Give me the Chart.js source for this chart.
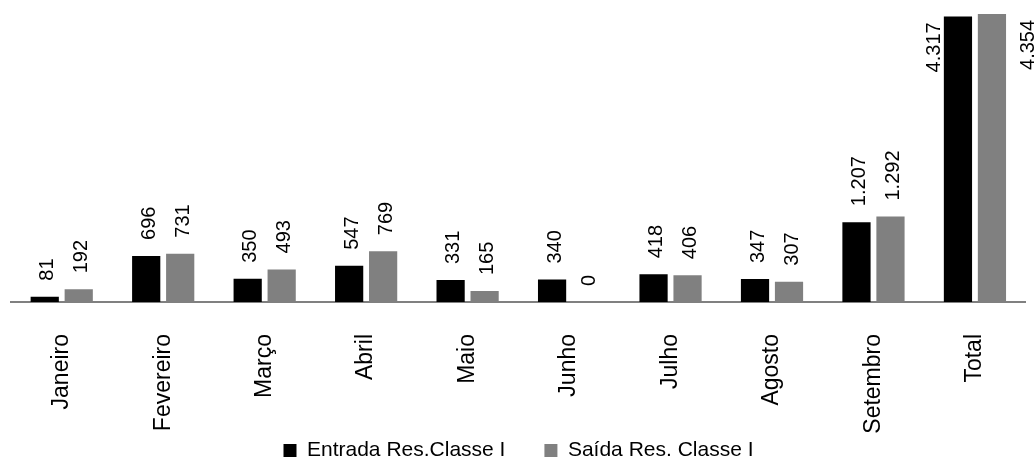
<!DOCTYPE html>
<html>
<head>
<meta charset="utf-8">
<script src="https://cdn.jsdelivr.net/npm/chart.js@4/dist/chart.umd.min.js"></script>
<style>
  html, body { margin: 0; padding: 0; background: #ffffff; overflow: hidden; }
  canvas { display: block; }
</style>
</head>
<body>
<canvas id="chart" width="1035" height="462"></canvas>
<script>
// Categories and series
const months = ['Janeiro', 'Fevereiro', 'Março', 'Abril', 'Maio', 'Junho', 'Julho', 'Agosto', 'Setembro', 'Total'];
const entradaClasseI = [81, 696, 350, 547, 331, 340, 418, 347, 1207, 4317];
const saidaClasseI = [192, 731, 493, 769, 165, 0, 406, 307, 1292, 4354];
const seriesNames = ['Entrada Res.Classe I', 'Saída Res. Classe I'];

const FONT = '"Liberation Sans", Arial, Helvetica, sans-serif';

// Brazilian thousands separator: 4317 -> "4.317"
function fmtBR(v) {
  return String(v).replace(/\B(?=(\d{3})+(?!\d))/g, '.');
}

// Vertical value labels above each bar (beside it when there is no room above)
const valueLabels = {
  id: 'valueLabels',
  afterLayout(chart) {
    // let the long rotated month names run down to the canvas edge without clipping
    const xs = chart.scales.x;
    xs.bottom = chart.height;
  },
  afterDatasetsDraw(chart) {
    const ctx = chart.ctx;
    const area = chart.chartArea;
    ctx.save();
    ctx.font = '20px ' + FONT;
    ctx.fillStyle = '#000000';
    ctx.textBaseline = 'middle';
    ctx.textAlign = 'left';
    chart.data.datasets.forEach((ds, di) => {
      const meta = chart.getDatasetMeta(di);
      meta.data.forEach((bar, i) => {
        const text = fmtBR(ds.data[i]);
        const w = ctx.measureText(text).width;
        let x = bar.x + 3;
        let y = bar.y - 16;
        if (y - w < area.top) {
          x = di === 0 ? bar.x - 23 : bar.x + 37;
          y = bar.y + 56;
        }
        ctx.save();
        ctx.translate(x, y);
        ctx.rotate(-Math.PI / 2);
        ctx.fillText(text, 0, 0);
        ctx.restore();
      });
    });
    ctx.restore();
  }
};

new Chart(document.getElementById('chart'), {
  type: 'bar',
  data: {
    labels: months,
    datasets: [
      {
        label: seriesNames[0],
        data: entradaClasseI,
        backgroundColor: '#000000',
        borderWidth: 0,
        barPercentage: 0.83,
        categoryPercentage: 0.67
      },
      {
        label: seriesNames[1],
        data: saidaClasseI,
        backgroundColor: '#808080',
        borderWidth: 0,
        barPercentage: 0.83,
        categoryPercentage: 0.67
      }
    ]
  },
  options: {
    responsive: false,
    animation: false,
    devicePixelRatio: 1,
    layout: { padding: { left: 11, right: 9, top: 0, bottom: 0 } },
    scales: {
      x: {
        grid: { display: false, drawTicks: false },
        border: { display: true, color: '#808080', width: 2 },
        ticks: {
          color: '#000000',
          font: { family: FONT, size: 23 },
          minRotation: 90,
          maxRotation: 90,
          padding: 32,
          autoSkip: false
        },
        afterFit(scale) { scale.height = 99; }
      },
      y: {
        display: false,
        min: 0,
        max: 4565
      }
    },
    plugins: {
      legend: {
        position: 'bottom',
        maxHeight: 61,
        labels: {
          boxWidth: 13,
          boxHeight: 13,
          padding: 39,
          color: '#000000',
          font: { family: FONT, size: 21 }
        }
      },
      tooltip: { enabled: false }
    }
  },
  plugins: [valueLabels]
});
</script>
</body>
</html>
